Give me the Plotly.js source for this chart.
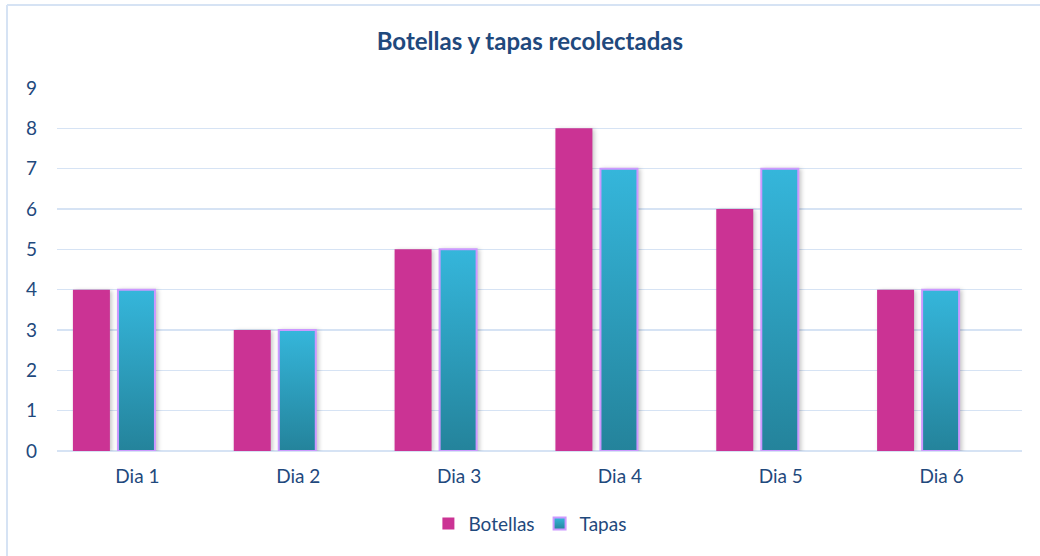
<!DOCTYPE html>
<html>
<head>
<meta charset="utf-8">
<script src="https://cdn.plot.ly/plotly-3.0.1.min.js"></script>
<style>
html,body{margin:0;padding:0;background:#fff;}
#chart{width:1040px;height:556px;}
.trace.bars path{filter:drop-shadow(2px 1px 2px rgba(0,0,0,0.22));}
</style>
</head>
<body>
<div id="chart"></div>
<script>
const categories = ["Dia 1", "Dia 2", "Dia 3", "Dia 4", "Dia 5", "Dia 6"];
const botellas = [4, 3, 5, 8, 6, 4];
const tapas = [4, 3, 5, 7, 7, 4];
const yTicks = [0, 1, 2, 3, 4, 5, 6, 7, 8, 9];

const textColor = "#1F497D";
const fontFam = "Lato, 'Open Sans', sans-serif";

const traces = [
  {
    type: "bar", name: "Botellas", x: categories, y: botellas,
    marker: {color: "#CB3394", line: {width: 0}},
    width: 0.23, offset: -0.401, hoverinfo: "x+y"
  },
  {
    type: "bar", name: "Tapas", x: categories, y: tapas,
    marker: {color: "#2FA4C6", line: {width: 2, color: "#CC99FF"}},
    width: 0.23, offset: -0.121, hoverinfo: "x+y"
  }
];

const layout = {
  width: 1040, height: 556,
  margin: {l: 57, r: 18, t: 88, b: 105},
  paper_bgcolor: "#ffffff", plot_bgcolor: "#ffffff",
  font: {family: fontFam, color: textColor, size: 19},
  title: {
    text: "<b>Botellas y tapas recolectadas</b>",
    font: {family: fontFam, size: 24, color: textColor},
    x: 0.49, xref: "paper", xanchor: "center", y: 0.925, yref: "container", yanchor: "middle"
  },
  xaxis: {
    type: "category", showgrid: false, zeroline: false,
    showline: false, ticks: "", ticklabelstandoff: 12,
    tickfont: {size: 19, color: textColor}
  },
  yaxis: {
    range: [0, 9], tickvals: yTicks, showgrid: true, gridcolor: "#D6E3F4", gridwidth: 1.6,
    zeroline: true, zerolinecolor: "#D6E3F4", zerolinewidth: 1.6, showline: false,
    ticks: "", ticklabelstandoff: 19, tickfont: {size: 19, color: textColor}, fixedrange: true
  },
  showlegend: true,
  legend: {
    orientation: "h", x: 0.51, xref: "container", xanchor: "center",
    y: 0.058, yref: "container", yanchor: "middle",
    font: {size: 19, color: textColor}, itemwidth: 30, tracegroupgap: 0
  },
  shapes: [
    {type: "line", layer: "below", xref: "paper", yref: "paper", x0: -0.0518, x1: 1.02, y0: 1.2287, y1: 1.2287, line: {color: "#D6E3F4", width: 2}},
    {type: "line", layer: "below", xref: "paper", yref: "paper", x0: -0.0518, x1: -0.0518, y0: -0.3, y1: 1.2287, line: {color: "#D6E3F4", width: 2}}
  ],
  bargap: 0.2
};

Plotly.newPlot("chart", traces, layout, {displayModeBar: false, staticPlot: true}).then(function (gd) {
  const svgNS = "http://www.w3.org/2000/svg";
  const svg = gd.querySelector(".main-svg");
  let defs = svg.querySelector("defs");
  if (!defs) { defs = document.createElementNS(svgNS, "defs"); svg.insertBefore(defs, svg.firstChild); }
  const grad = document.createElementNS(svgNS, "linearGradient");
  grad.setAttribute("id", "tapasGrad");
  grad.setAttribute("x1", "0"); grad.setAttribute("y1", "0");
  grad.setAttribute("x2", "0"); grad.setAttribute("y2", "1");
  [["0", "#35B6DB"], ["1", "#24839B"]].forEach(function (s) {
    const st = document.createElementNS(svgNS, "stop");
    st.setAttribute("offset", s[0]); st.setAttribute("stop-color", s[1]);
    grad.appendChild(st);
  });
  defs.appendChild(grad);
  const barTraces = gd.querySelectorAll(".barlayer .trace.bars");
  if (barTraces[1]) {
    barTraces[1].querySelectorAll("path").forEach(function (p) { p.style.fill = "url(#tapasGrad)"; });
  }
  const legPts = gd.querySelectorAll(".legend .traces");
  if (legPts[1]) {
    legPts[1].querySelectorAll(".legendpoints path").forEach(function (p) { p.style.fill = "url(#tapasGrad)"; });
  }
});
</script>
</body>
</html>
